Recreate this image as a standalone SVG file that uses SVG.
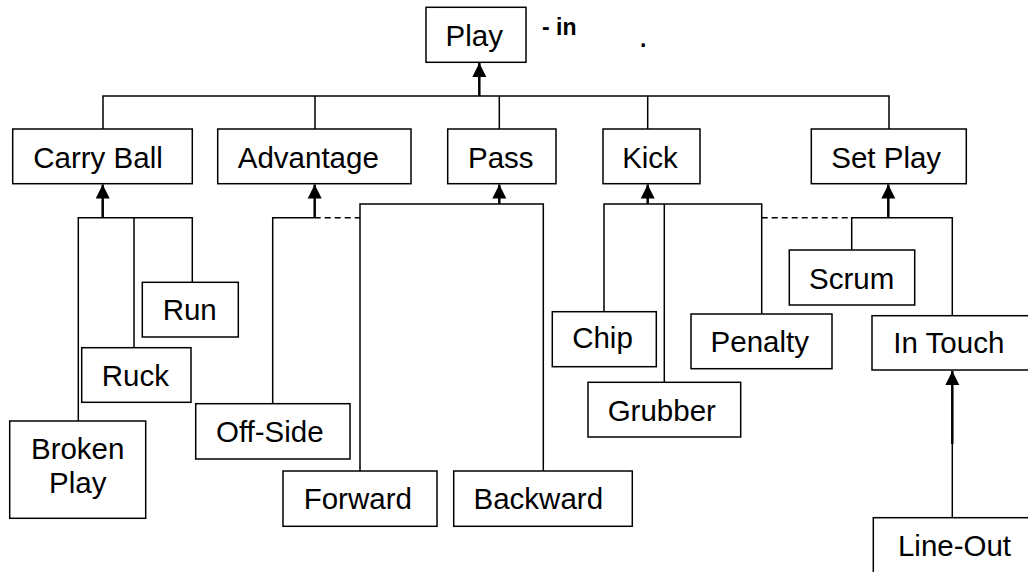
<svg xmlns="http://www.w3.org/2000/svg" width="1028" height="572" viewBox="0 0 1028 572">
<style>
.box{fill:#fff;stroke:#000;stroke-width:1.5}
.lbl{font-family:"Liberation Sans",Arial,sans-serif;font-size:29.5px;fill:#000;text-anchor:middle}
.ann{font-family:"Liberation Sans",Arial,sans-serif;font-size:23px;font-weight:bold;fill:#000}
.ln{fill:none;stroke:#000;stroke-width:1.5}
.dash{fill:none;stroke:#000;stroke-width:1.5;stroke-dasharray:6 4}
.stem{fill:none;stroke:#000;stroke-width:2.5}
</style>
<defs>
<marker id="ah" markerUnits="userSpaceOnUse" markerWidth="14" markerHeight="15" refX="14" refY="7" orient="auto" viewBox="0 0 14 14">
<path d="M0,0 L14,7 L0,14 Z" fill="#000"/>
</marker>
</defs>
<rect width="1028" height="572" fill="#fff"/>
<g id="connectors">
<path class="ln" d="M103,129 V96 H889 V129 M315,96 V129 M499.3,96 V129 M647.7,96 V129"/>
<path class="stem" d="M479.3,96 V63" marker-end="url(#ah)"/>
<path class="ln" d="M78.3,421 V217.7 H192.3 V282.3 M134,217.7 V347.7"/>
<path class="stem" d="M102.7,217.7 V184.5" marker-end="url(#ah)"/>
<path class="ln" d="M272.7,403.7 V217.7 H314.7"/>
<path class="dash" d="M314.7,217.7 H360"/>
<path class="stem" d="M314.7,217.7 V184.5" marker-end="url(#ah)"/>
<path class="ln" d="M360,471 V204 H543.3 V471"/>
<path class="stem" d="M499.3,204 V184.5" marker-end="url(#ah)"/>
<path class="ln" d="M604,311.7 V204 H761.7 V314 M664.3,204 V382.3"/>
<path class="stem" d="M647.7,204 V184.5" marker-end="url(#ah)"/>
<path class="dash" d="M761.7,217.7 H851.7"/>
<path class="ln" d="M851.7,250 V217.7 H952.3 V315.7"/>
<path class="stem" d="M888.3,217.7 V184.5" marker-end="url(#ah)"/>
<path class="ln" d="M952.3,517.7 V444"/>
<path class="stem" d="M952.3,444 V371" marker-end="url(#ah)"/>
</g>
<g id="n-play"><rect class="box" x="426" y="7.3" width="100" height="55"/><text class="lbl" x="474.2" y="45.5">Play</text></g>
<g id="annotation"><text class="ann" x="542" y="34.5">- in</text><text class="ann" x="640" y="47">.</text></g>
<g id="n-carry"><rect class="box" x="12.7" y="129" width="179.6" height="54.7"/><text class="lbl" x="98" y="168">Carry Ball</text></g>
<g id="n-adv"><rect class="box" x="217.7" y="129" width="193.3" height="54.7"/><text class="lbl" x="308.3" y="168">Advantage</text></g>
<g id="n-pass"><rect class="box" x="447.7" y="129" width="108.3" height="54.7"/><text class="lbl" x="500.8" y="168">Pass</text></g>
<g id="n-kick"><rect class="box" x="603" y="129" width="97" height="54.7"/><text class="lbl" x="650" y="168">Kick</text></g>
<g id="n-setplay"><rect class="box" x="811.3" y="129" width="155" height="54.7"/><text class="lbl" x="886.2" y="168">Set Play</text></g>
<g id="n-run"><rect class="box" x="142.3" y="282.3" width="96" height="54.7"/><text class="lbl" x="189.7" y="320">Run</text></g>
<g id="n-ruck"><rect class="box" x="81.7" y="347.7" width="109.3" height="54.6"/><text class="lbl" x="135.3" y="386">Ruck</text></g>
<g id="n-broken"><rect class="box" x="9.7" y="421" width="136" height="97.3"/><text class="lbl" x="77.7" y="459.3">Broken</text><text class="lbl" x="77.7" y="493.3">Play</text></g>
<g id="n-offside"><rect class="box" x="195.7" y="403.7" width="154.3" height="55.3"/><text class="lbl" x="269.8" y="441.7">Off-Side</text></g>
<g id="n-forward"><rect class="box" x="283" y="471" width="154" height="55.3"/><text class="lbl" x="357.8" y="509.3">Forward</text></g>
<g id="n-backward"><rect class="box" x="453.7" y="471" width="178.6" height="55.3"/><text class="lbl" x="538.3" y="509.3">Backward</text></g>
<g id="n-chip"><rect class="box" x="552.3" y="311.7" width="104" height="55"/><text class="lbl" x="602.5" y="348.3">Chip</text></g>
<g id="n-grubber"><rect class="box" x="588" y="382.3" width="152.7" height="54.7"/><text class="lbl" x="661.8" y="421">Grubber</text></g>
<g id="n-penalty"><rect class="box" x="691" y="314" width="141" height="54.7"/><text class="lbl" x="759.8" y="351.7">Penalty</text></g>
<g id="n-scrum"><rect class="box" x="789.3" y="250" width="125.4" height="55"/><text class="lbl" x="851.7" y="289">Scrum</text></g>
<g id="n-intouch"><rect class="box" x="872" y="315.7" width="160" height="54.3"/><text class="lbl" x="948.8" y="353.3">In Touch</text></g>
<g id="n-lineout"><rect class="box" x="873.3" y="517.7" width="160" height="58"/><text class="lbl" x="954.5" y="556">Line-Out</text></g>
</svg>
